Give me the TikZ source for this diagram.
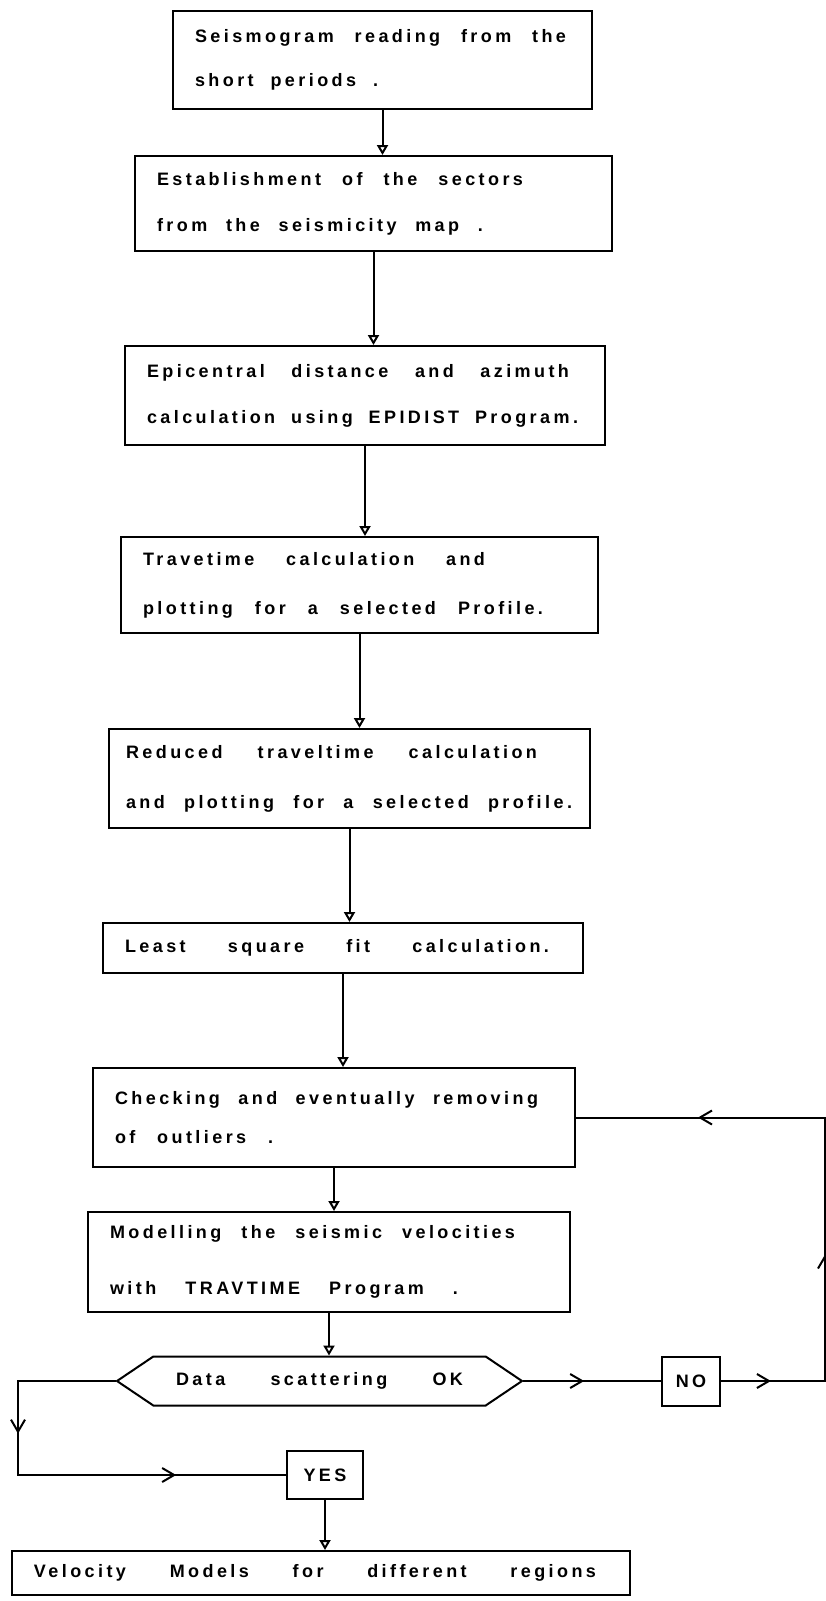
\documentclass[tikz,border=0pt]{standalone}
\usepackage{fontspec}
\setmainfont{Liberation Sans}[LetterSpace=19]
\usetikzlibrary{arrows.meta,positioning,shapes.symbols,decorations.markings}
\newcommand{\wideline}[2]{\makebox[#1pt][s]{\spaceskip=0pt plus 1fil\xspaceskip=0pt plus 1fil\relax #2}}

\begin{document}
\begin{tikzpicture}[
        x=1pt, y=-1pt,
        lbl/.style={font=\fontsize{18}{46}\selectfont\bfseries},
        stage/.style={rectangle, draw, line width=2pt, align=left, inner xsep=22pt, inner ysep=0pt, lbl},
        answer/.style={rectangle, draw, line width=2pt, inner sep=0pt, lbl},
        test/.style={signal, signal to=west and east, signal pointer angle=68, draw, line width=2pt, inner sep=0pt, lbl},
        flow/.style={line width=2pt, -{Triangle[open, length=10pt, width=11pt]}},
        wire/.style={line width=2pt, line cap=rect},
        midarrow/.style={postaction={decorate}, decoration={markings, mark=at position #1 with {\arrow{Straight Barb[length=12pt, width=14pt]}}}},
    ]
        \path[use as bounding box, fill=white] (0,0) rectangle (826,1601);

        % Processing chain
        \node[stage, text width=375pt, minimum height=98pt] (read) at (382.5,60) {\wideline{371}{Seismogram reading from the}\\[-2pt]\wideline{183}{short periods .}};
        \node[stage, text width=433pt, minimum height=95pt] (sectors) at (373.5,203.5) {\wideline{366}{Establishment of the sectors}\\\wideline{326}{from the seismicity map .}};
        \node[stage, text width=436pt, minimum height=99pt] (epidist) at (365,395.5) {\wideline{422}{Epicentral distance and azimuth}\\\wideline{431}{calculation using EPIDIST Program.}};
        \node[stage, text width=433pt, minimum height=96pt] (travel) at (359.5,585) {\wideline{342}{Travetime calculation and}\\[3pt]\wideline{400}{plotting for a selected Profile.}};
        \node[stage, text width=447pt, inner xsep=17pt, minimum height=99pt] (reduced) at (349.5,778.5) {\wideline{411}{Reduced traveltime calculation}\\[4pt]\wideline{446}{and plotting for a selected profile.}};
        \node[stage, text width=436pt, minimum height=50pt] (lsq) at (343,948) {\wideline{424}{Least square fit calculation.}};
        \node[stage, text width=438pt, minimum height=99pt] (outliers) at (334,1117.5) {\wideline{423}{Checking and eventually removing}\\[-7pt]\wideline{158}{of outliers .}};
        \node[stage, text width=438pt, minimum height=100pt] (model) at (329,1262) {\wideline{405}{Modelling the seismic velocities}\\[10pt]\wideline{348}{with TRAVTIME Program .}};

        % Decision
        \node[test, minimum width=405pt, minimum height=49pt] (scatter) at (319.5,1381) {\wideline{287}{Data scattering OK}};
        \node[answer, minimum width=58pt, minimum height=49pt] (no) at (691,1381) {NO};
        \node[answer, minimum width=76pt, minimum height=48pt] (yes) at (325,1475) {YES};

        % Result
        \node[stage, text width=574pt, minimum height=44pt] (velocity) at (321,1573) {\wideline{562}{Velocity Models for different regions}};

        % Corners of the loops
        \coordinate (rbot) at (825,1381);
        \coordinate (rtop) at (825,1117.5);
        \coordinate (lcorner) at (18,1381);

        % Straight arrows
        \foreach \a/\b in {read/sectors, sectors/epidist, epidist/travel, travel/reduced, reduced/lsq, lsq/outliers, outliers/model, model/scatter, yes/velocity} {
            \draw[flow] (\a.south) -- (\a.south |- \b.north);
        }

        % NO branch back to the outlier check
        \draw[wire, midarrow=0.44] (scatter.east) -- (no.west);
        \draw[wire, midarrow=0.48] (no.east) -- (rbot);
        \draw[wire, midarrow=0.48] (rbot) -- (rtop);
        \draw[wire, midarrow=0.51] (rtop) -- (outliers.east);

        % YES branch
        \draw[wire] (scatter.west) -- (lcorner);
        \draw[wire, midarrow=0.56] (lcorner) -- (lcorner |- yes.west);
        \draw[wire, midarrow=0.59] (lcorner |- yes.west) -- (yes.west);

    \end{tikzpicture}
\end{document}
